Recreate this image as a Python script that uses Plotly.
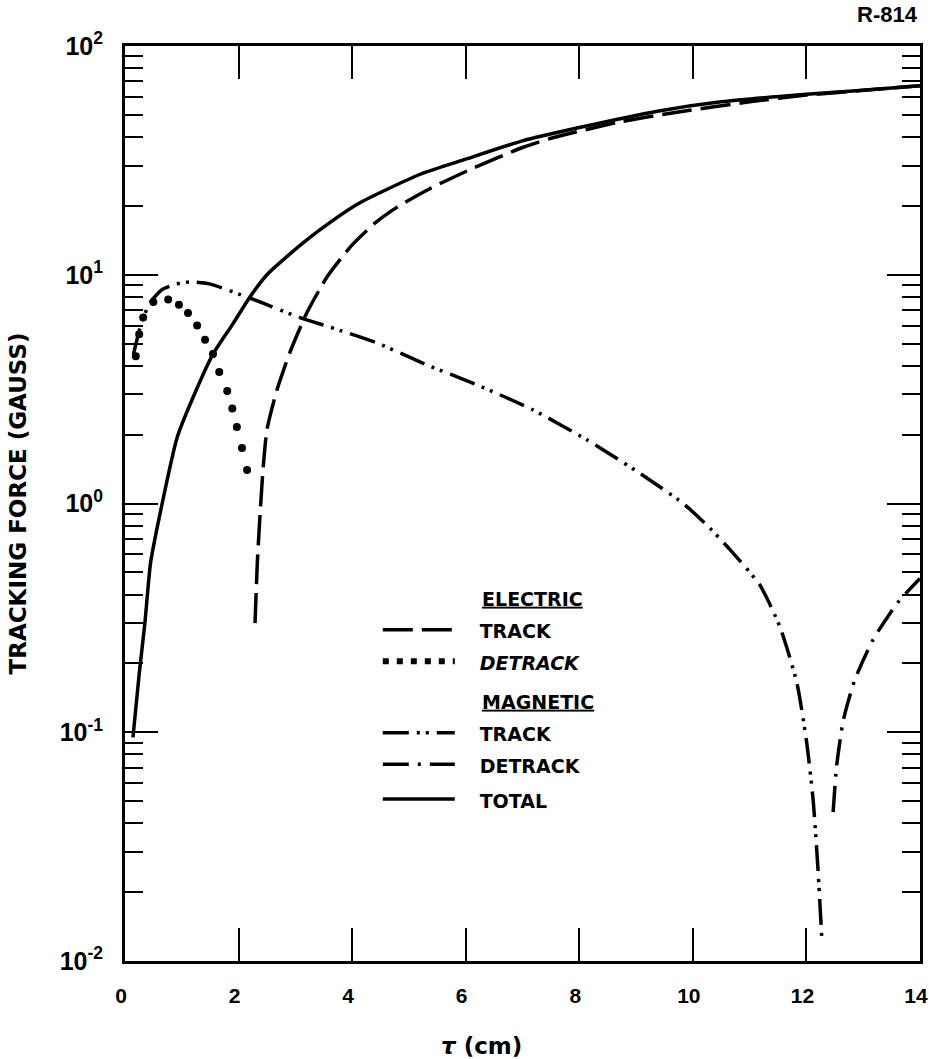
import plotly.graph_objects as go

# Total tracking force
total_x = [0.14, 0.25, 0.35, 0.45, 0.62, 0.92, 1.27, 1.55, 1.9, 2.2, 2.5, 2.85,
           3.4, 4.1, 5.2, 6.0, 7.0, 8.0, 9.4, 10.5, 12.0, 13.0, 14.0]
total_y = [0.095, 0.18, 0.30, 0.55, 0.91, 1.95, 3.2, 4.5, 6.1, 8.0, 10.0, 12.0,
           15.5, 20.4, 27.5, 32.0, 38.5, 44.0, 52.0, 57.0, 61.5, 64.0, 67.0]

# Electric field, tracking component
etrack_x = [2.29, 2.33, 2.38, 2.43, 2.5, 2.67, 2.9, 3.2, 3.56, 4.0, 4.4, 4.8,
            5.4, 6.1, 7.0, 7.5, 8.7, 9.75, 11.0, 12.0, 13.0, 14.0]
etrack_y = [0.30, 0.55, 0.91, 1.40, 2.1, 3.1, 4.55, 6.8, 9.8, 13.5, 16.8, 19.8,
            24.0, 29.0, 36.0, 39.5, 46.5, 51.5, 57.0, 61.0, 64.0, 67.0]

# Electric field, detracking component
edet_x = [0.19, 0.25, 0.32, 0.5, 0.76, 0.95, 1.11, 1.27, 1.41, 1.55, 1.66,
          1.80, 1.89, 1.97, 2.06, 2.15]
edet_y = [4.4, 5.5, 6.5, 7.6, 7.8, 7.4, 6.8, 6.0, 5.2, 4.5, 3.76, 3.1, 2.6,
          2.16, 1.75, 1.40]

# Magnetic field, tracking component
mtrack_x = [0.15, 0.3, 0.45, 0.65, 0.9, 1.14, 1.5, 2.2, 3.08, 3.61, 4.44, 5.32,
            6.2, 7.18, 8.13, 8.98, 9.83, 10.3, 10.65, 11.18, 11.53, 11.83, 12.0,
            12.12, 12.2, 12.27]
mtrack_y = [4.5, 6.3, 7.6, 8.6, 9.1, 9.3, 9.1, 7.9, 6.5, 5.9, 5.03, 4.03, 3.3,
            2.57, 1.90, 1.40, 1.0, 0.78, 0.63, 0.44, 0.29, 0.165, 0.092, 0.05,
            0.026, 0.0127]

# Magnetic field, detracking component
mdet_x = [12.47, 12.53, 12.65, 12.85, 13.17, 13.6, 14.0]
mdet_y = [0.0448, 0.0705, 0.113, 0.169, 0.253, 0.367, 0.47]

x_ticks = [0, 2, 4, 6, 8, 10, 12, 14]
y_ticks = [0.01, 0.1, 1, 10, 100]
y_tick_text = ["10<sup>-2</sup>", "10<sup>-1</sup>", "10<sup>0</sup>",
               "10<sup>1</sup>", "10<sup>2</sup>"]

INK = "black"
SANS = "DejaVu Sans"
NARROW = "Liberation Sans Narrow, Liberation Sans, Arial"
NB = "\u00a0"


def item(text, italic=False):
    """Legend entry text: padded away from the line sample, drawn at 19px."""
    body = f"<i>{text}</i>" if italic else text
    return f"<span style='font-size:19px'>{NB * 3}{body}</span>"


def heading(text):
    """Underlined group heading lined up with the entry texts."""
    return f"<span style='font-size:19px'>{NB * 15}<u>{text}</u></span>"


fig = go.Figure()

fig.add_trace(go.Scatter(
    x=etrack_x, y=etrack_y, mode="lines", name=item("TRACK"),
    legendgroup="elec",
    legendgrouptitle=dict(text=heading("ELECTRIC"),
                          font=dict(family=SANS, size=26, color=INK, weight="bold")),
    line=dict(color=INK, width=3.5, dash="30px,9px", shape="spline", smoothing=0.6),
    hoverinfo="skip"))
fig.add_trace(go.Scatter(
    x=edet_x, y=edet_y, mode="markers", showlegend=False, legendgroup="elec",
    marker=dict(color=INK, size=8), hoverinfo="skip"))
fig.add_trace(go.Scatter(
    x=[None], y=[None], mode="lines", name=item("DETRACK", italic=True),
    legendgroup="elec", line=dict(color=INK, width=6, dash="6px,8px")))

fig.add_trace(go.Scatter(
    x=mtrack_x, y=mtrack_y, mode="lines", name=item("TRACK"),
    legendgroup="mag",
    legendgrouptitle=dict(text=heading("MAGNETIC"),
                          font=dict(family=SANS, size=26, color=INK, weight="bold")),
    line=dict(color=INK, width=3.5, dash="26px,8px,3px,6px,3px,8px",
              shape="spline", smoothing=0.6),
    hoverinfo="skip"))
fig.add_trace(go.Scatter(
    x=mdet_x, y=mdet_y, mode="lines", name=item("DETRACK"), legendgroup="mag",
    line=dict(color=INK, width=3.5, dash="26px,9px,3px,9px",
              shape="spline", smoothing=0.6),
    hoverinfo="skip"))

fig.add_trace(go.Scatter(
    x=total_x, y=total_y, mode="lines", name=item("TOTAL"), legendgroup="tot",
    line=dict(color=INK, width=3.5, shape="spline", smoothing=0.6),
    hoverinfo="skip"))

fig.update_layout(
    width=929, height=1059,
    margin=dict(l=125, r=9, t=46, b=98, autoexpand=False),
    paper_bgcolor="white", plot_bgcolor="white",
    showlegend=True,
    legend=dict(
        x=0.318, y=0.425, xanchor="left", yanchor="top",
        font=dict(family=SANS, size=22, color=INK, weight="bold"),
        itemwidth=72, traceorder="grouped", tracegroupgap=3,
        bgcolor="rgba(0,0,0,0)",
    ),
    annotations=[
        dict(text="<i>τ</i> (cm)", xref="paper", yref="paper", x=0.449, y=-0.093,
             xanchor="center", yanchor="middle", showarrow=False,
             font=dict(family=SANS, size=23, color=INK, weight="bold")),
        dict(text="R-814", xref="paper", yref="paper", x=1.0, y=1.034,
             xanchor="right", yanchor="middle", showarrow=False,
             font=dict(family=NARROW, size=22, color=INK, weight="bold")),
    ],
)

fig.update_xaxes(
    range=[0, 14], tickmode="array", tickvals=x_ticks,
    ticks="inside", ticklen=33, tickwidth=2,
    tickcolor=INK, showline=True, linewidth=3, linecolor=INK, mirror="ticks",
    showgrid=False, zeroline=False, ticklabelstandoff=14, ticklabelshift=-4,
    tickfont=dict(family=NARROW, size=21, color=INK, weight="bold"),
    ticklabeloverflow="allow", automargin=False,
)
fig.update_yaxes(
    type="log", range=[-2, 2], tickmode="array", tickvals=y_ticks,
    ticktext=y_tick_text,
    ticks="inside", ticklen=33, tickwidth=2, tickcolor=INK,
    minor=dict(ticks="inside", ticklen=18, tickwidth=2, tickcolor=INK, dtick="D1",
               showgrid=False),
    showline=True, linewidth=3, linecolor=INK, mirror="ticks",
    showgrid=False, zeroline=False, ticklabelstandoff=14,
    tickfont=dict(family=NARROW, size=25, color=INK, weight="bold"),
    ticklabeloverflow="allow", automargin=False,
    title=dict(text="TRACKING FORCE (GAUSS)",
               font=dict(family=SANS, size=23, color=INK, weight="bold"), standoff=27),
)

fig.write_html("out.html")
